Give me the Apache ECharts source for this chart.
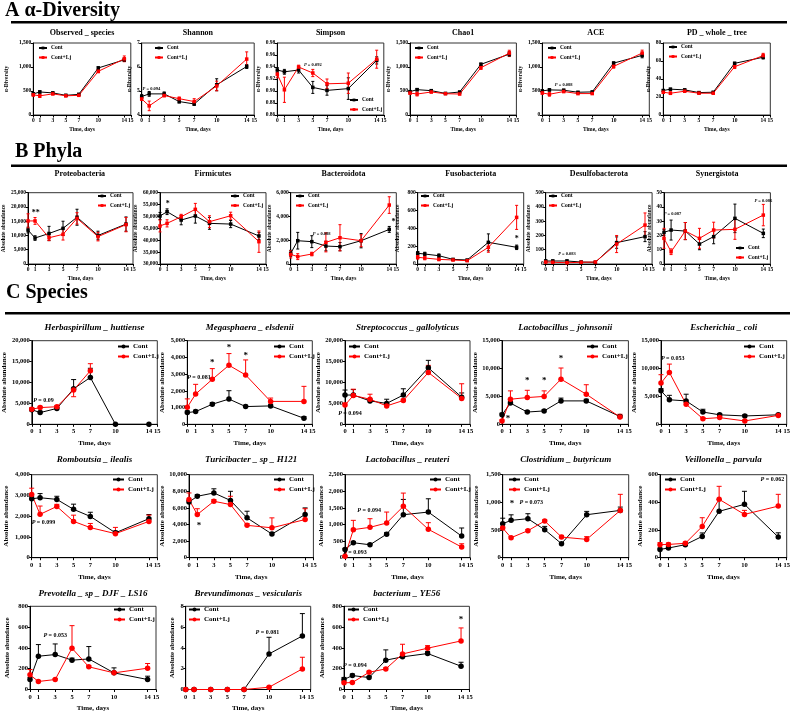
<!DOCTYPE html>
<html><head><meta charset="utf-8">
<script src="https://cdn.jsdelivr.net/npm/echarts@6/dist/echarts.min.js"></script>
<style>html,body{margin:0;padding:0;background:#fff}#c{width:796px;height:713px}</style>
</head><body><div id="c"></div>
<script>
// ---------- DATA ----------
const days = [0, 1, 3, 5, 7, 10, 14];
const xTickValues = [0, 1, 3, 5, 7, 10, 14, 15];
const sectionTitles = ['A α-Diversity', 'B Phyla', 'C Species'];
const panelTitles = ['Observed _ species','Shannon','Simpson','Chao1','ACE','PD _ whole _ tree',
  'Proteobacteria','Firmicutes','Bacteroidota','Fusobacteriota','Desulfobacterota','Synergistota',
  'Herbaspirillum _ huttiense','Megasphaera _ elsdenii','Streptococcus _ gallolyticus','Lactobacillus _ johnsonii','Escherichia _ coli',
  'Romboutsia _ ilealis','Turicibacter _ sp _ H121','Lactobacillus _ reuteri','Clostridium _ butyricum','Veillonella _ parvula',
  'Prevotella _ sp _ DJF _ LS16','Brevundimonas _ vesicularis','bacterium _ YE56'];
const seriesNames = ['Cont', 'Cont+Lj'];
const yNameA = 'α-Diversity', yNameB = 'Absolute abundance', xName = 'Time, days';

// A
const obsCont=[440,480,460,410,430,980,1150], obsContErr=[25,25,20,20,20,25,35];
const obsLj=[420,400,440,400,410,910,1170], obsLjErr=[25,35,20,20,20,30,60];
const shaCont=[4.77,4.88,4.88,4.56,4.46,5.26,6.02], shaContErr=[0.08,0.1,0.08,0.06,0.06,0.25,0.08];
const shaLj=[4.67,4.38,4.81,4.68,4.56,5.21,6.33], shaLjErr=[0.06,0.2,0.05,0.07,0.12,0.2,0.3];
const simCont=[0.935,0.932,0.935,0.906,0.901,0.904,0.951], simContErr=[0.004,0.004,0.005,0.01,0.008,0.018,0.006];
const simLj=[0.928,0.902,0.940,0.930,0.912,0.913,0.953], simLjErr=[0.006,0.021,0.003,0.006,0.008,0.017,0.015];
const chaCont=[486,528,507,450,479,1056,1268], chaContErr=[20,25,20,15,15,25,50];
const chaLj=[458,437,479,444,437,986,1289], chaLjErr=[25,40,20,20,15,35,60];
const aceCont=[502,523,516,474,481,1081,1242], aceContErr=[20,25,20,15,15,25,50];
const aceLj=[460,432,488,446,446,1012,1291], aceLjErr=[25,40,20,20,15,35,60];
const pdCont=[27.2,28.7,27.9,24.9,25.3,57.4,64.2], pdContErr=[1,1,1,0.8,0.8,1.2,2];
const pdLj=[25.3,24.2,26.4,24.2,24.2,53.6,66.0], pdLjErr=[1,1.5,1,0.8,0.8,2,2.5];
// B
const proCont=[11900,9100,10700,12500,16400,10000,14000], proContErr=[1000,800,2500,2500,2800,1500,2500];
const proLj=[15100,15100,9200,10400,16000,9600,13800], proLjErr=[2500,1200,1000,2000,2000,1500,2500];
const firCont=[50200,52000,48500,50200,47100,46800,41800], firContErr=[1500,1200,2000,3000,2500,1500,1500];
const firLj=[46000,47100,49900,53000,47800,50300,39400], firLjErr=[2500,1500,1000,2500,2500,1500,4500];
const bacCont=[900,1960,1880,1510,1460,1960,2910], bacContErr=[250,700,500,400,350,600,250];
const bacLj=[810,620,840,1820,2210,1960,4960], bacLjErr=[300,250,150,800,1100,500,700];
const fusCont=[120,112,93,52,45,243,187], fusContErr=[20,20,20,8,5,95,25];
const fusLj=[75,67,52,45,37,187,523], fusLjErr=[20,20,15,8,5,55,135];
const desCont=[21,21,21,14,12,150,192], desContErr=[8,8,8,5,4,40,35];
const desLj=[14,12,9,12,14,140,273], desLjErr=[6,5,4,5,5,60,85];
const synCont=[22.2,23.8,23.1,14.0,19.2,32.0,21.5], synContErr=[2,7,6,4,5,10,3];
const synLj=[18.0,8.6,23.1,18.0,23.8,24.3,34.3], synLjErr=[7,2,6,7,5.5,7,7.5];
// C
const herCont=[3500,2800,3800,8500,11200,0,0], herContErr=[400,300,300,2200,2200,0,0];
const herLj=[3600,4000,4200,8200,12800,null,null], herLjErr=[300,300,300,-1600,1700,null,null];
const megCont=[700,760,1200,1510,1060,1100,360], megContErr=[100,80,100,500,80,100,100];
const megLj=[1020,1810,2690,3530,2950,1370,1370], megLjErr=[500,580,640,700,900,200,900];
const strCont=[7000,7000,5600,5000,7000,13500,6500], strContErr=[1200,1300,500,1000,1500,1800,1000];
const strLj=[4600,6900,6000,4400,5700,12400,6200], strLjErr=[500,1500,1200,500,300,1700,3500];
const ljoCont=[1700,3800,2200,2400,4200,4200,1400], ljoContErr=[300,300,200,200,500,300,200];
const ljoLj=[600,4500,4800,5000,8100,5400,1300], ljoLjErr=[200,1500,1300,1000,2000,1700,500];
const ecoCont=[6000,4400,4200,2200,1700,1500,1700], ecoContErr=[400,800,1200,500,200,200,200];
const ecoLj=[7400,9300,3600,1000,1200,600,1600], ecoLjErr=[1500,1500,300,200,200,200,200];
const romCont=[2840,2890,2810,2330,1990,1200,1880], romContErr=[100,200,150,250,200,80,200];
const romLj=[3050,2090,2470,1750,1450,1160,1750], romLjErr=[300,400,100,300,200,300,300];
const turCont=[6700,7400,7800,6900,4800,2850,5200], turContErr=[200,200,500,1100,800,200,800];
const turLj=[7000,5200,6800,6400,3900,3600,4600], turLjErr=[800,700,200,1000,200,1200,1300];
const reuCont=[250,450,390,710,1295,1375,650], reuContErr=[30,30,30,50,460,400,245];
const reuLj=[40,845,915,1045,1546,855,320], reuLjErr=[20,280,260,330,400,200,100];
const cloCont=[614,675,705,506,253,777,855], cloContErr=[100,100,90,60,20,60,60];
const cloLj=[536,361,488,663,373,331,855], cloLjErr=[20,20,20,20,30,50,290];
const veiCont=[60,70,94,154,335,386,149], veiContErr=[10,10,10,25,87,94,31];
const veiLj=[94,96,104,226,422,313,373], veiLjErr=[15,10,8,63,94,29,85];
const preCont=[96,320,336,282,294,160,96], preContErr=[20,112,102,20,119,48,32];
const preLj=[141,77,96,397,218,160,205], preLjErr=[51,10,10,217,10,10,45];
const breCont=[0,0,0,0,0,3.42,5.15], breContErr=[0,0,0,0,0,1.6,2.15];
const breLj=[0,0,0,0,0,0.22,1.98], breLjErr=[0,0,0,0,0,0.05,1.12];
const yeCont=[96,134,115,282,314,346,224], yeContErr=[20,15,10,99,30,20,38];
const yeLj=[64,67,166,198,342,397,467], yeLjErr=[10,10,10,10,93,25,125];

// y ranges [min, max, step]
const yRanges = [[0,1500,500],[4,7,1],[0.86,0.98,0.02],[0,1500,500],[0,1500,500],[0,80,20],
  [0,25000,5000],[30000,60000,5000],[0,6000,2000],[0,800,200],[0,500,100],[0,50,10],
  [0,20000,5000],[0,5000,1000],[0,20000,5000],[0,15000,5000],[0,15000,5000],
  [0,4000,1000],[0,10000,2000],[0,2500,500],[0,1500,500],[0,600,200],
  [0,800,200],[0,8,2],[0,800,200]];

// annotations [x, y, text] in data units
const annos = [
  [], [[1.3,5.07,'P = 0.094']], [[5,0.944,'P = 0.092']], [], [[3,620,'P = 0.088']], [],
  [[1.1,17800,'**']], [[1.1,55300,'*']], [[4.4,2500,'P = 0.088'],[14.6,3500,'*']], [[14,280,'*']], [[3,70,'P = 0.083']], [[1.2,35,'P = 0.087'],[14,44,'P = 0.086']],
  [[1.4,5600,'P = 0.09']], [[1.4,2800,'P = 0.081'],[3,3680,'*'],[5,4600,'*'],[7,4100,'*']], [[0.6,2600,'P = 0.094']],
  [[0.7,1000,'*'],[3,7800,'*'],[5,7800,'*'],[7,11800,'*']], [[1.4,11800,'P = 0.053']],
  [[1.4,1690,'P = 0.099']], [[1.2,3900,'*']], [[2.9,1420,'P = 0.094'],[1.2,150,'P = 0.093']], [[1.1,980,'*'],[3.4,990,'P = 0.073']], [[13.3,565,'P = 0.062']],
  [[3,520,'P = 0.053']], [[9.8,5.5,'P = 0.081']], [[1.3,234,'P = 0.094'],[14,672,'*']]
];

const seriesData = [
  [obsCont,obsContErr,obsLj,obsLjErr],[shaCont,shaContErr,shaLj,shaLjErr],[simCont,simContErr,simLj,simLjErr],
  [chaCont,chaContErr,chaLj,chaLjErr],[aceCont,aceContErr,aceLj,aceLjErr],[pdCont,pdContErr,pdLj,pdLjErr],
  [proCont,proContErr,proLj,proLjErr],[firCont,firContErr,firLj,firLjErr],[bacCont,bacContErr,bacLj,bacLjErr],
  [fusCont,fusContErr,fusLj,fusLjErr],[desCont,desContErr,desLj,desLjErr],[synCont,synContErr,synLj,synLjErr],
  [herCont,herContErr,herLj,herLjErr],[megCont,megContErr,megLj,megLjErr],[strCont,strContErr,strLj,strLjErr],
  [ljoCont,ljoContErr,ljoLj,ljoLjErr],[ecoCont,ecoContErr,ecoLj,ecoLjErr],
  [romCont,romContErr,romLj,romLjErr],[turCont,turContErr,turLj,turLjErr],[reuCont,reuContErr,reuLj,reuLjErr],
  [cloCont,cloContErr,cloLj,cloLjErr],[veiCont,veiContErr,veiLj,veiLjErr],
  [preCont,preContErr,preLj,preLjErr],[breCont,breContErr,breLj,breLjErr],[yeCont,yeContErr,yeLj,yeLjErr]
];

// ---------- LAYOUT ----------
// [left, top, width, height, legendLeft, legendTop, yNameGap, titleY]
const layout = [
  [33.3,43,97.5,72,38,45,24,33],[141.7,43,112.5,72,154,45,4,33],[277.3,43,106.5,72,349,97,12,33],
  [410,43,106.4,72,414,45,16,33],[542.3,43,107,72,547,45,16,33],[663.3,43,107,72,668,44,10,33],
  [26.7,192.7,106.3,71.3,97,193,21,174],[160,192.7,106,71.3,230,193,21,174],[290.7,192.7,105.6,71.3,295,193,18,174],
  [417.7,192.7,106,71.3,420,193,17,174],[545.7,192.7,106.4,71.3,548,193,14,174],[664,192.7,106.4,71.3,735,245,11,174],
  [31.7,340.7,125.6,83.6,117,343,23,328],[187.3,340.7,125,83.6,273,343,22,328],[345,340.7,125,83.6,348,343,23,328],
  [502,340.7,126.4,83.6,586,343,23,328],[661,340.7,125.7,83.6,743,343,23,328],
  [31.7,474.7,125.6,83,112,476,22,460],[189,474.7,124.4,83,273,476,23,460],[345,474.7,125,83,429,476,20,460],
  [502.7,474.7,126,83,508,476,23,460],[660,474.7,126.7,83,664,476,16,460],
  [30,606.3,126,83.4,113,606,19,594],[185.7,606.3,125,83.4,188,606,10,594],[344,606.3,125.4,83.4,347,606,18,594]
];

const FONT = '"Liberation Serif","Times New Roman",serif';
const RED = '#ff0000', BLACK = '#000000';
const styleA = {sym:'rect', symSize:3.5, tick:5.5, nameFs:5.5, leg:5.5, legW:8, legH:3.5, legGap:3.5, title:8, italic:false, lm:3, xng:12, one:false, cap:1.5, anno:4.5, star:8, lw:1};
const styleC = {sym:'circle', symSize:5.5, tick:6.5, nameFs:7, leg:7, legW:11, legH:5, legGap:3, title:9, italic:true, lm:4, xng:15.5, one:true, cap:2.5, anno:6, star:9, lw:1};

function fmtY(v, step){
  if (step < 1) return v.toFixed(2);
  const r = Math.round(v);
  return r >= 1000 ? r.toLocaleString('en-US') : String(r);
}

const grids=[], xAxes=[], yAxes=[], series=[], legends=[], graphics=[];

graphics.push({type:'text', left:5, top:1, style:{text:sectionTitles[0], font:'bold 20px '+FONT, fill:'#000'}});
graphics.push({type:'rect', shape:{x:11, y:21, width:776, height:2.5}, style:{fill:'#000'}});
graphics.push({type:'text', left:15, top:142, style:{text:sectionTitles[1], font:'bold 20px '+FONT, fill:'#000'}});
graphics.push({type:'rect', shape:{x:11, y:164.5, width:776, height:2.5}, style:{fill:'#000'}});
graphics.push({type:'text', left:6, top:283, style:{text:sectionTitles[2], font:'bold 20px '+FONT, fill:'#000'}});
graphics.push({type:'rect', shape:{x:5, y:312, width:785, height:2.5}, style:{fill:'#000'}});

function errRender(color, cap, oneSided){
  return function(params, api){
    const x = api.value(0), v = api.value(1), e = api.value(2);
    if (isNaN(v) || isNaN(e) || e === 0) return null;
    const hi = api.coord([x, v + e]);
    const lo = api.coord([x, oneSided ? v : v - e]);
    const st = {stroke:color, lineWidth:1};
    const ch = [
      {type:'line', shape:{x1:hi[0], y1:hi[1], x2:lo[0], y2:lo[1]}, style:st},
      {type:'line', shape:{x1:hi[0]-cap, y1:hi[1], x2:hi[0]+cap, y2:hi[1]}, style:st}
    ];
    if (!oneSided) ch.push({type:'line', shape:{x1:lo[0]-cap, y1:lo[1], x2:lo[0]+cap, y2:lo[1]}, style:st});
    return {type:'group', children:ch};
  };
}

panelTitles.forEach((title, i) => {
  const L = layout[i];
  const S = i < 12 ? styleA : styleC;
  const [ymin, ymax, ystep] = yRanges[i];
  const [c, ce, l, le] = seriesData[i];
  const nm = i < 12 ? seriesNames : seriesNames.map(s => s + ' ');
  grids.push({left:L[0], top:L[1], width:L[2], height:L[3], show:true, borderColor:'#333', borderWidth:1, containLabel:false});
  xAxes.push({gridIndex:i, type:'value', min:0, max:15,
    axisLine:{onZero:false, lineStyle:{color:'#000', width:1}},
    axisTick:{customValues:xTickValues, length:2.5, lineStyle:{color:'#000'}},
    axisLabel:{customValues:xTickValues, fontSize:S.tick, fontFamily:FONT, fontWeight:'bold', color:'#000', margin:S.lm},
    splitLine:{show:false},
    name:xName, nameLocation:'middle', nameGap:S.xng,
    nameTextStyle:{fontSize:S.nameFs, fontFamily:FONT, fontWeight:'bold', color:'#000'}});
  yAxes.push({gridIndex:i, type:'value', min:ymin, max:ymax, interval:ystep,
    axisLine:{show:true, lineStyle:{color:'#000', width:1}},
    axisTick:{show:true, length:2.5, lineStyle:{color:'#000'}},
    axisLabel:{fontSize:S.tick, fontFamily:FONT, fontWeight:'bold', color:'#000', margin:2,
      formatter:(v)=>fmtY(v, ystep)},
    splitLine:{show:false},
    name: i < 6 ? yNameA : yNameB, nameLocation:'middle', nameGap:L[6],
    nameTextStyle:{fontSize:S.nameFs, fontFamily:FONT, fontWeight:'bold', color:'#000'}});
  const mk = (arr) => days.map((d,k) => [d, arr[k] == null ? '-' : arr[k]]);
  const mkE = (arr, err) => days.map((d,k) => [d, arr[k] == null ? '-' : arr[k], err[k] == null ? '-' : err[k]]);
  [[c, ce, BLACK, nm[0]], [l, le, RED, nm[1]]].forEach(([v, e, col, name]) => {
    series.push({type:'custom', xAxisIndex:i, yAxisIndex:i, data:mkE(v, e), renderItem:errRender(col, S.cap, S.one),
      encode:{x:0, y:1}, clip:false, silent:true, z:2});
    series.push({type:'line', name:name, xAxisIndex:i, yAxisIndex:i, data:mk(v), symbol:S.sym, symbolSize:S.symSize,
      showSymbol:true, connectNulls:false, lineStyle:{color:col, width:S.lw}, itemStyle:{color:col}, z:3, silent:true});
  });
  const an = annos[i];
  if (an.length) {
    series.push({type:'custom', xAxisIndex:i, yAxisIndex:i, data:an.map(a=>[a[0], a[1]]), clip:false, silent:true, z:4,
      encode:{x:0, y:1},
      renderItem:(params, api) => {
        const a = an[params.dataIndex];
        const p = api.coord([a[0], a[1]]);
        const isStar = a[2].indexOf('P') < 0;
        const txt = isStar ? a[2] : '{i|P}' + a[2].slice(1);
        return {type:'text', x:p[0], y:p[1], style:{text:txt, fill:'#000', fontFamily:FONT, fontWeight:'bold',
          fontSize: isStar ? S.star : S.anno, align:'center', verticalAlign:'middle',
          rich:{i:{fontStyle:'italic', fontWeight:'bold', fontFamily:FONT, fontSize:S.anno}}}};
      }});
  }
  legends.push({left:L[4], top:L[5], orient:'vertical', padding:0, itemWidth:S.legW, itemHeight:S.legH, itemGap:S.legGap,
    selectedMode:false, data:nm, formatter:(n)=>n.trim(),
    textStyle:{fontSize:S.leg, fontFamily:FONT, fontWeight:'bold', color:'#000', padding:[0,0,0,-1]}});
  graphics.push({type:'text', x:L[0] + L[2]/2, y:L[7], style:{text:title,
    font:(S.italic ? 'italic ' : '') + 'bold ' + S.title + 'px ' + FONT, fill:'#000', align:'center', verticalAlign:'middle'}});
});

const chart = echarts.init(document.getElementById('c'), null, {renderer:'canvas'});
chart.setOption({animation:false, backgroundColor:'#fff', grid:grids, xAxis:xAxes, yAxis:yAxes, series:series, legend:legends, graphic:graphics});
</script></body></html>
